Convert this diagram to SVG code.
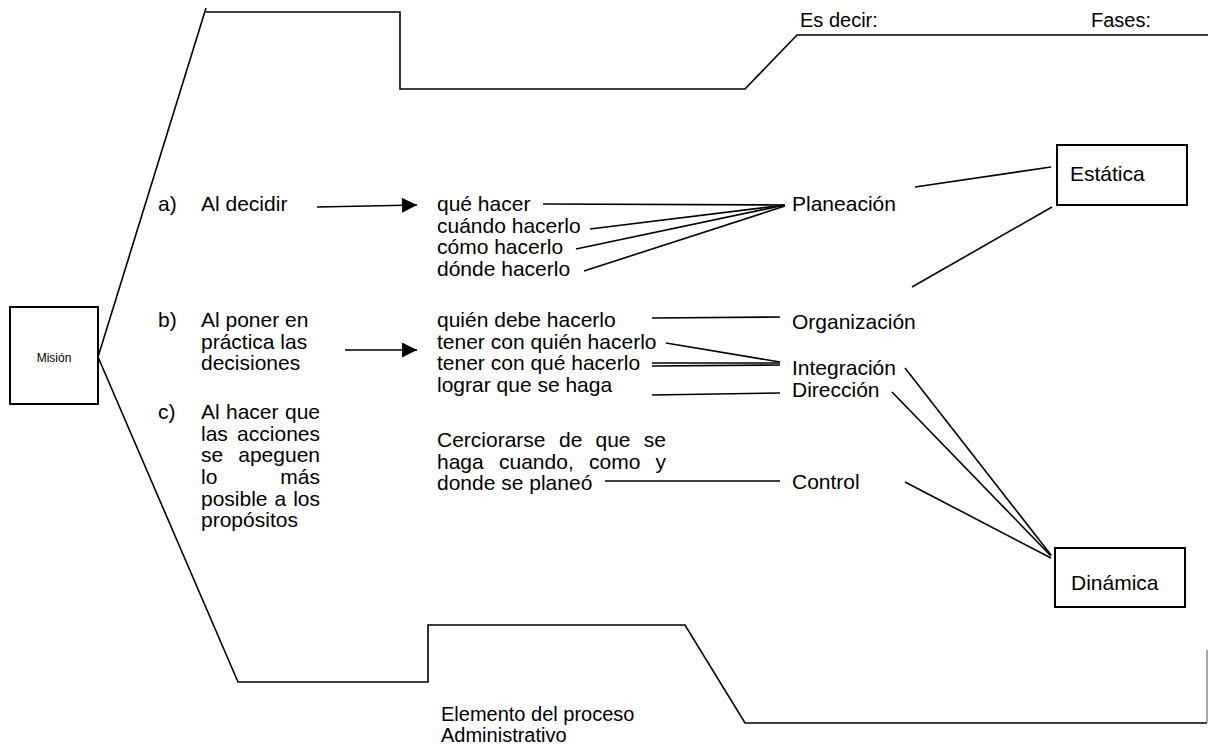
<svg xmlns="http://www.w3.org/2000/svg" width="1208" height="747" viewBox="0 0 1208 747">
  <style>
    text { font-family: "Liberation Sans", Arial, sans-serif; font-size: 21px; fill: #000; }
    .small { font-size: 12px; }
    .ln { fill: none; stroke: #000; stroke-width: 1.6; }
    .box { fill: #fff; stroke: #000; stroke-width: 2; }
  </style>
  <defs>
    <marker id="arrow" viewBox="0 0 10 10" refX="10" refY="5" markerWidth="16" markerHeight="15" markerUnits="userSpaceOnUse" orient="auto">
      <path d="M0,0 L10,5 L0,10 Z" fill="#000"/>
    </marker>
  </defs>
  <rect width="1208" height="747" fill="#fff"/>

  <!-- outer frame: upper and lower brace lines -->
  <g id="frame">
    <polyline class="ln" points="98,357 206,8"/>
    <polyline class="ln" points="206,12 400,12 400,89 745,89 797,35 1208,35"/>
    <polyline class="ln" points="98,357 238,682 428,682 428,625 685,625 745,723 1207,723"/>
    <line x1="1207" y1="650" x2="1207" y2="723" stroke="#888" stroke-width="1.5"/>
  </g>

  <g id="headers">
    <text x="800" y="27" style="font-size:20px">Es decir:</text>
    <text x="1091" y="27" style="font-size:20px">Fases:</text>
  </g>

  <g id="mision">
    <rect class="box" x="10" y="307" width="88" height="97"/>
    <text class="small" x="54" y="362" text-anchor="middle">Misión</text>
  </g>

  <g id="item-a">
    <text x="158" y="211">a)</text>
    <text x="201" y="211">Al decidir</text>
  </g>

  <g id="item-b">
    <text x="158" y="327">b)</text>
    <text x="201" y="327">Al poner en</text>
    <text x="201" y="349">práctica las</text>
    <text x="201" y="370">decisiones</text>
  </g>

  <!-- justified paragraph: words placed individually -->
  <g id="item-c">
    <text x="158" y="419">c)</text>
    <text y="419"><tspan x="201">Al</tspan><tspan x="226">hacer</tspan><tspan x="320" text-anchor="end">que</tspan></text>
    <text y="441"><tspan x="201">las</tspan><tspan x="320" text-anchor="end">acciones</tspan></text>
    <text y="462"><tspan x="201">se</tspan><tspan x="320" text-anchor="end">apeguen</tspan></text>
    <text y="484"><tspan x="201">lo</tspan><tspan x="320" text-anchor="end">más</tspan></text>
    <text y="506"><tspan x="201">posible</tspan><tspan x="274.5">a</tspan><tspan x="320" text-anchor="end">los</tspan></text>
    <text x="201" y="527">propósitos</text>
  </g>

  <g id="tasks-plan">
    <text x="437" y="211">qué hacer</text>
    <text x="437" y="233">cuándo hacerlo</text>
    <text x="437" y="254">cómo hacerlo</text>
    <text x="437" y="276">dónde hacerlo</text>
  </g>

  <g id="tasks-exec">
    <text x="437" y="327">quién debe hacerlo</text>
    <text x="437" y="349">tener con quién hacerlo</text>
    <text x="437" y="370">tener con qué hacerlo</text>
    <text x="437" y="392">lograr que se haga</text>
  </g>

  <g id="tasks-control">
    <text y="447"><tspan x="437">Cerciorarse</tspan><tspan x="559">de</tspan><tspan x="595.5">que</tspan><tspan x="666" text-anchor="end">se</tspan></text>
    <text y="469"><tspan x="437">haga</tspan><tspan x="499">cuando,</tspan><tspan x="589">como</tspan><tspan x="666" text-anchor="end">y</tspan></text>
    <text x="437" y="490">donde se planeó</text>
  </g>

  <g id="phases">
    <text x="792" y="211">Planeación</text>
    <text x="792" y="329">Organización</text>
    <text x="792" y="375">Integración</text>
    <text x="792" y="397">Dirección</text>
    <text x="792" y="489">Control</text>
  </g>

  <g id="estatica">
    <rect class="box" x="1057" y="145" width="130" height="60"/>
    <text x="1070" y="181">Estática</text>
  </g>

  <g id="dinamica">
    <rect class="box" x="1055" y="548" width="130" height="59"/>
    <text x="1071" y="590">Dinámica</text>
  </g>

  <g id="connectors" class="ln">
    <line x1="317" y1="207" x2="417" y2="205" marker-end="url(#arrow)"/>
    <line x1="345" y1="350" x2="417" y2="350" marker-end="url(#arrow)"/>

    <line x1="543" y1="204" x2="785" y2="205"/>
    <line x1="590" y1="229" x2="785" y2="205"/>
    <line x1="576" y1="249" x2="785" y2="205"/>
    <line x1="584" y1="271" x2="785" y2="206"/>

    <line x1="915" y1="187" x2="1051" y2="167"/>
    <line x1="912" y1="287" x2="1052" y2="207"/>

    <line x1="652" y1="318" x2="780" y2="317"/>
    <line x1="666" y1="343" x2="780" y2="362"/>
    <line x1="652" y1="363" x2="780" y2="363"/>
    <line x1="652" y1="366" x2="780" y2="365"/>
    <line x1="652" y1="395" x2="780" y2="393"/>
    <line x1="605" y1="481" x2="780" y2="481"/>

    <line x1="905" y1="368" x2="1051" y2="555"/>
    <line x1="892" y1="392" x2="1051" y2="556"/>
    <line x1="905" y1="482" x2="1051" y2="558"/>
  </g>

  <g id="footer">
    <text x="441" y="721" style="font-size:20px">Elemento del proceso</text>
    <text x="441" y="742" style="font-size:20px">Administrativo</text>
  </g>
</svg>
